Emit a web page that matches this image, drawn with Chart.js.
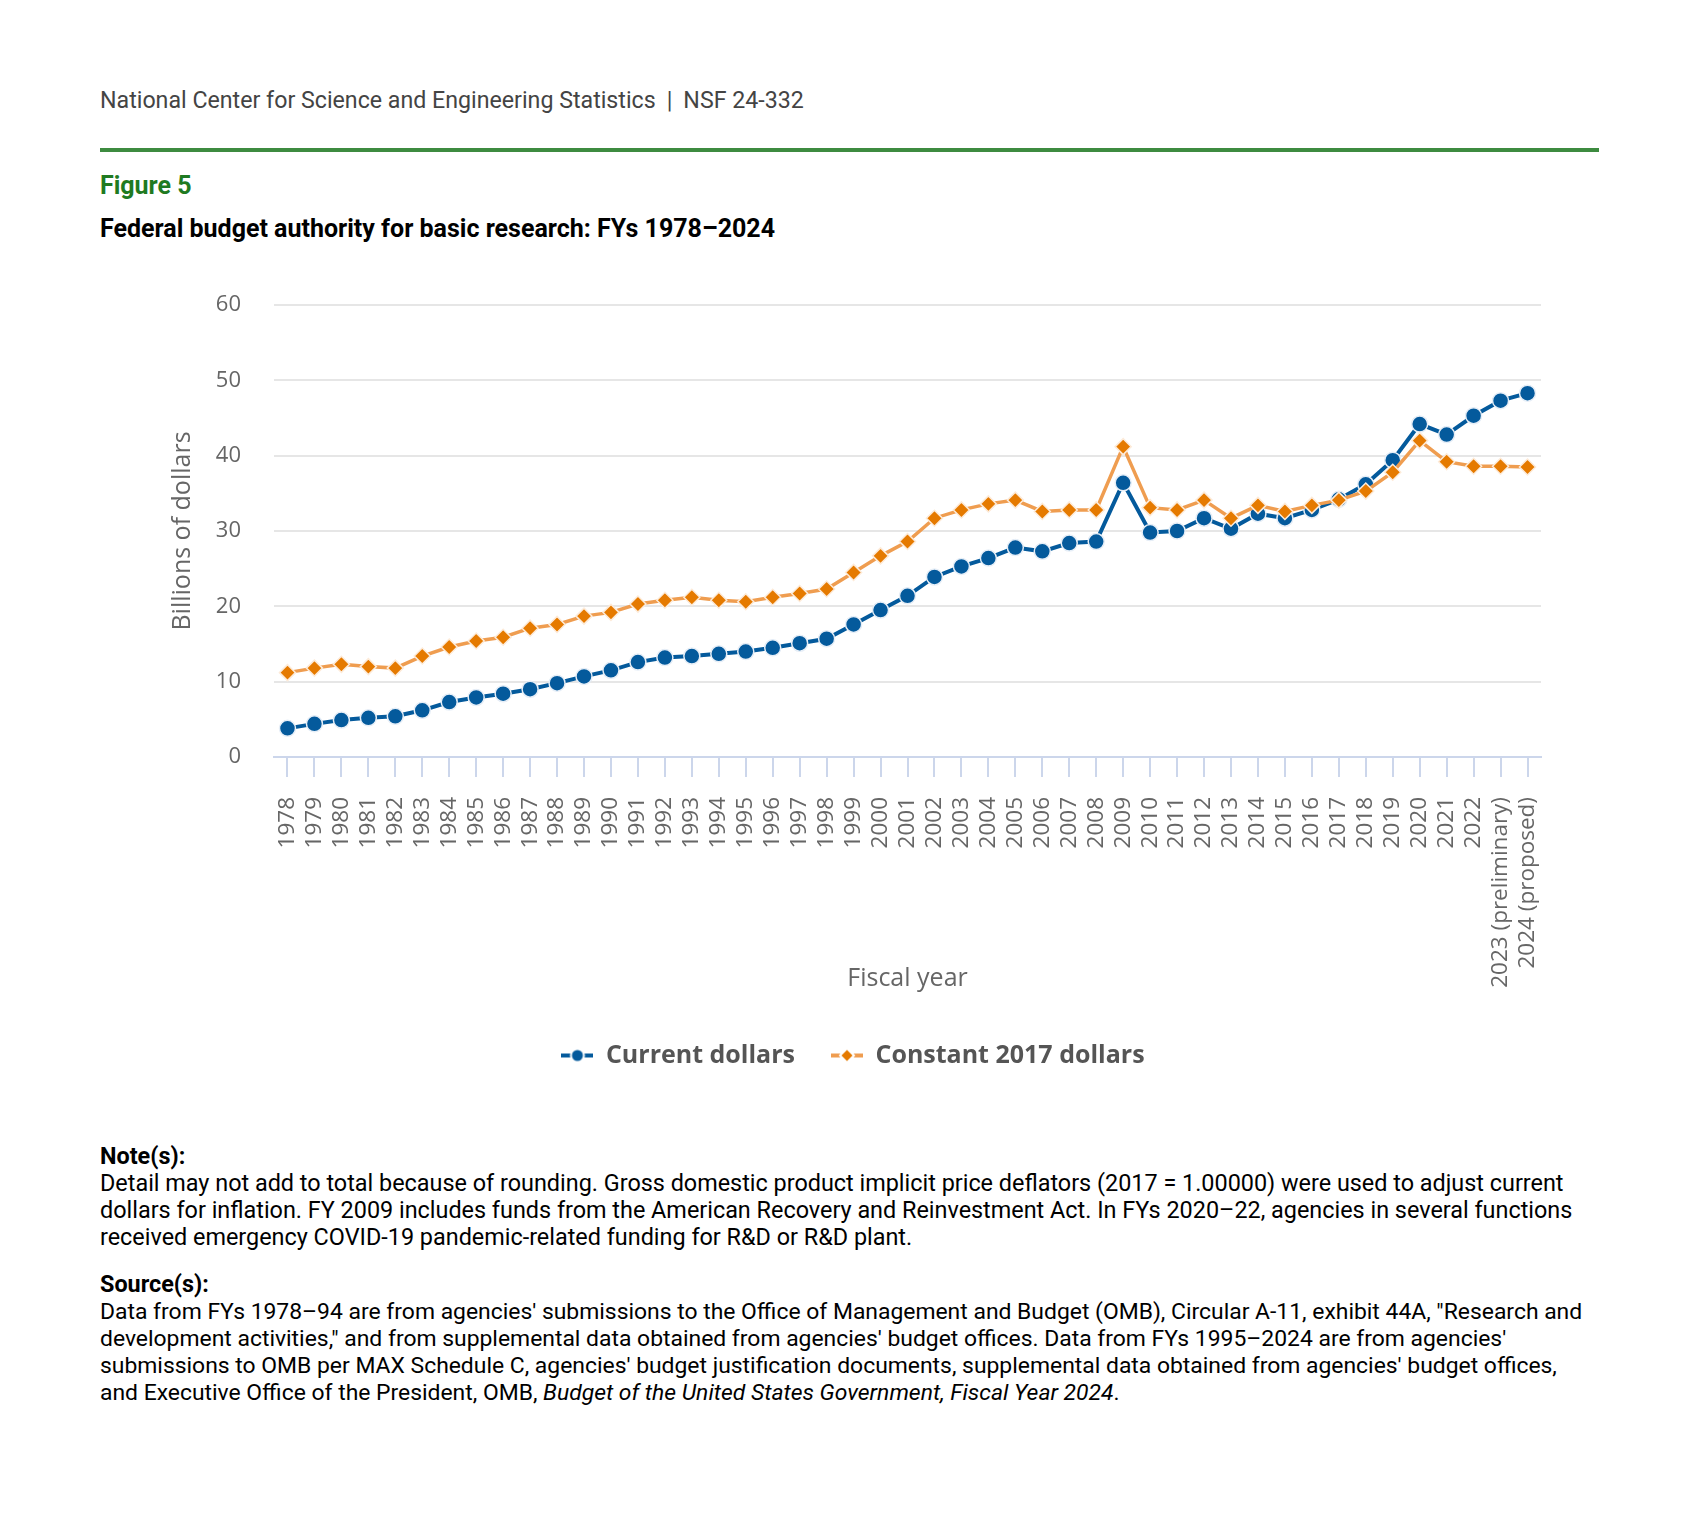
<!DOCTYPE html>
<html><head><meta charset="utf-8">
<script src="https://cdn.jsdelivr.net/npm/chart.js@4.4.1/dist/chart.umd.min.js"></script>
<style>
html,body{margin:0;padding:0;background:#fff;}
body{width:1699px;height:1515px;position:relative;overflow:hidden;font-family:Roboto,sans-serif;}
.abs{position:absolute;left:100px;white-space:nowrap;}
#org{top:85px;line-height:30px;font-size:23.2px;color:#444;}
#org .pipe{margin:0 11px;}
#rule{top:148px;height:4px;width:1499px;background:#3d8b40;}
#fig{top:171px;line-height:30px;font-size:25px;font-weight:700;color:#1f7a21;}
#title{top:214px;line-height:30px;font-size:25px;font-weight:700;color:#000;}
#chartbox{position:absolute;left:100px;top:250px;width:1507px;height:838px;}
.notes{position:absolute;left:100px;font-size:23.4px;line-height:27px;color:#000;white-space:nowrap;}
.notes.src{font-size:22.9px;}
.notes b{font-weight:700;font-size:23.4px;}
</style>
</head>
<body>
<div class="abs" id="org">National Center for Science and Engineering Statistics<span class="pipe">|</span>NSF 24-332</div>
<div class="abs" id="rule"></div>
<div class="abs" id="fig">Figure 5</div>
<div class="abs" id="title">Federal budget authority for basic research: FYs 1978–2024</div>
<div id="chartbox"><canvas id="c"></canvas></div>
<div class="notes" style="top:1143px;"><b>Note(s):</b><br>Detail may not add to total because of rounding. Gross domestic product implicit price deflators (2017 = 1.00000) were used to adjust current<br>dollars for inflation. FY 2009 includes funds from the American Recovery and Reinvestment Act. In FYs 2020–22, agencies in several functions<br>received emergency COVID-19 pandemic-related funding for R&amp;D or R&amp;D plant.</div>
<div class="notes src" style="top:1271px;"><b>Source(s):</b><br>Data from FYs 1978–94 are from agencies' submissions to the Office of Management and Budget (OMB), Circular A-11, exhibit 44A, "Research and<br>development activities," and from supplemental data obtained from agencies' budget offices. Data from FYs 1995–2024 are from agencies'<br>submissions to OMB per MAX Schedule C, agencies' budget justification documents, supplemental data obtained from agencies' budget offices,<br>and Executive Office of the President, OMB, <i>Budget of the United States Government, Fiscal Year 2024</i>.</div>
<script>
const years = ['1978','1979','1980','1981','1982','1983','1984','1985','1986','1987','1988','1989','1990','1991','1992','1993','1994','1995','1996','1997','1998','1999','2000','2001','2002','2003','2004','2005','2006','2007','2008','2009','2010','2011','2012','2013','2014','2015','2016','2017','2018','2019','2020','2021','2022','2023 (preliminary)','2024 (proposed)'];
const currentDollars = [3.8,4.4,4.9,5.2,5.4,6.2,7.3,7.9,8.4,9.0,9.8,10.7,11.5,12.6,13.2,13.4,13.7,14.0,14.5,15.1,15.7,17.6,19.5,21.4,23.9,25.3,26.4,27.8,27.3,28.4,28.6,36.4,29.8,30.0,31.7,30.3,32.3,31.7,32.8,34.2,36.2,39.4,44.2,42.8,45.3,47.3,48.3];
const constant2017Dollars = [11.2,11.8,12.3,12.0,11.8,13.4,14.6,15.4,15.9,17.1,17.6,18.7,19.2,20.3,20.8,21.2,20.8,20.6,21.2,21.7,22.3,24.5,26.7,28.6,31.7,32.8,33.6,34.1,32.6,32.8,32.8,41.2,33.1,32.8,34.1,31.7,33.4,32.6,33.4,34.1,35.3,37.8,42.0,39.2,38.6,38.6,38.5];
const seriesNames = ['Current dollars','Constant 2017 dollars'];

const BLUE = '#045a9c', ORANGE = '#e57a00', ORANGE_LINE = '#ef9d50';

function legendSymbol(lineColor, markerColor, shape){
  const c = document.createElement('canvas');
  c.width = 32; c.height = 16;
  const g = c.getContext('2d');
  g.strokeStyle = lineColor; g.lineWidth = 4;
  g.beginPath(); g.moveTo(0,8); g.lineTo(32,8); g.stroke();
  g.fillStyle = markerColor; g.strokeStyle = '#fff'; g.lineWidth = 2;
  g.beginPath();
  if (shape === 'circle') g.arc(16,8,6.5,0,Math.PI*2);
  else { g.moveTo(16,1); g.lineTo(23,8); g.lineTo(16,15); g.lineTo(9,8); g.closePath(); }
  g.fill(); g.stroke();
  return c;
}

function build(){
  Chart.defaults.font.family = "'Open Sans', sans-serif";
  const symbols = [legendSymbol(BLUE, BLUE, 'circle'), legendSymbol(ORANGE_LINE, ORANGE, 'diamond')];
  new Chart(document.getElementById('c'), {
    type: 'line',
    data: {
      labels: years,
      datasets: [
        { label: seriesNames[0], data: currentDollars, borderColor: BLUE, backgroundColor: BLUE,
          borderWidth: 4, tension: 0, pointStyle: 'circle', pointRadius: 8,
          pointBackgroundColor: BLUE, pointBorderColor: '#e6eef7', pointBorderWidth: 1.5, order: 1 },
        { label: seriesNames[1], data: constant2017Dollars, borderColor: ORANGE_LINE, backgroundColor: ORANGE,
          borderWidth: 3.5, tension: 0, pointStyle: 'rectRot', pointRadius: 8,
          pointBackgroundColor: ORANGE, pointBorderColor: '#fdebd9', pointBorderWidth: 1.5, order: 0 }
      ]
    },
    options: {
      responsive: true, maintainAspectRatio: false, animation: false,
      devicePixelRatio: 1,
      layout: { padding: { top: 55, left: 65, right: 66, bottom: 10 } },
      plugins: {
        tooltip: { enabled: false },
        legend: {
          position: 'bottom',
          labels: {
            usePointStyle: true, pointStyleWidth: 32, padding: 36, color: '#555',
            font: { size: 25, weight: 'bold' },
            generateLabels: chart => chart.data.datasets.map((ds, i) => ({
              text: ds.label, fillStyle: ds.backgroundColor, strokeStyle: 'rgba(0,0,0,0)', lineWidth: 0,
              pointStyle: symbols[i], hidden: false, datasetIndex: i, fontColor: '#555'
            }))
          }
        }
      },
      scales: {
        x: {
          type: 'category', offset: true,
          grid: { display: true, drawOnChartArea: false, drawTicks: true, tickLength: 20, tickColor: '#ccd6eb', color: '#ccd6eb', lineWidth: 2, offset: false },
          border: { display: true, color: '#ccd6eb', width: 2, z: 1 },
          ticks: { autoSkip: false, maxRotation: 90, minRotation: 90, padding: 20, color: '#666', font: { size: 22.5 } },
          title: { display: true, text: 'Fiscal year', color: '#666', font: { size: 25 }, padding: { top: 0, bottom: 13 } },
          afterFit: s => { s.height = 250; }
        },
        y: {
          min: 0, max: 60,
          ticks: { stepSize: 10, padding: 33, color: '#666', font: { size: 22 } },
          grid: { drawTicks: false, lineWidth: 2, color: ctx => (ctx.tick && ctx.tick.value === 0) ? 'rgba(0,0,0,0)' : '#e6e6e6' },
          border: { display: false },
          title: { display: true, text: 'Billions of dollars', color: '#666', font: { size: 25 }, padding: { top: 3, bottom: 0 } },
          afterFit: s => { s.width = 109; }
        }
      }
    }
  });
}
Promise.all([
  document.fonts.load("22px 'Open Sans'"), document.fonts.load("bold 25px 'Open Sans'"),
  document.fonts.load("22px Roboto"), document.fonts.load("bold 25px Roboto"), document.fonts.load("italic 23px Roboto")
]).then(build, build);
</script>
</body></html>
